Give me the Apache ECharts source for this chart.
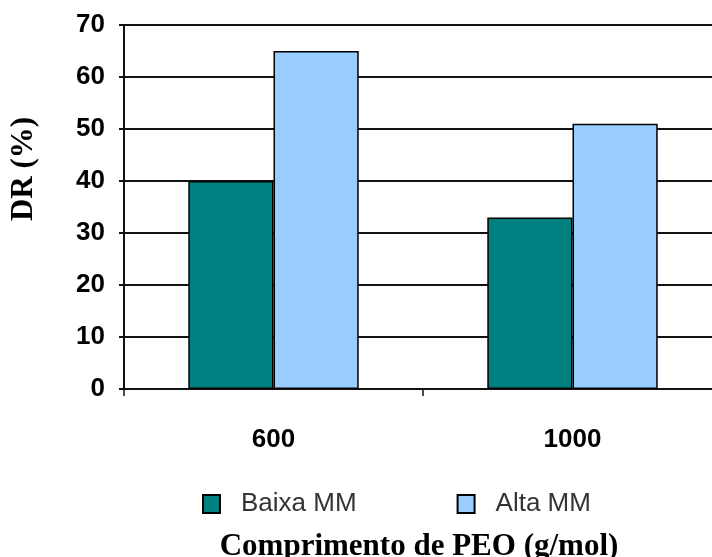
<!DOCTYPE html>
<html>
<head>
<meta charset="utf-8">
<script src="https://cdn.jsdelivr.net/npm/echarts@6/dist/echarts.min.js"></script>
<style>
  html, body { margin: 0; padding: 0; background: #fff; }
  #chart { width: 712px; height: 557px; }
</style>
</head>
<body>
<div id="chart"></div>
<script>
// PEO chain length (g/mol) on the category axis
const categories = ['600', '1000'];
// DR (%) for low and high molar mass
const baixaMM = [40, 33];
const altaMM = [65, 51];
const seriesNames = ['Baixa MM', 'Alta MM'];
// y-axis scale
const yMin = 0, yMax = 70, yStep = 10;

const tickFont = '"Liberation Sans Narrow", "Arial Narrow", "Liberation Sans", Arial, sans-serif';
const titleFont = '"Liberation Serif", "Times New Roman", serif';

const chart = echarts.init(document.getElementById('chart'), null, { renderer: 'canvas' });

chart.setOption({
  animation: false,
  backgroundColor: '#ffffff',
  // the plot runs slightly past the right edge of the canvas
  grid: { left: 124, top: 25, width: 598, bottom: 168, containLabel: false, outerBoundsMode: 'none' },
  legend: {
    data: seriesNames,
    left: 197,
    top: 486,
    itemWidth: 17,
    itemHeight: 18,
    itemGap: 100,
    icon: 'rect',
    itemStyle: { borderColor: '#000', borderWidth: 2 },
    textStyle: {
      fontFamily: '"Liberation Sans", Arial, sans-serif',
      fontSize: 26,
      color: '#333',
      padding: [0, 0, 0, 16]
    }
  },
  xAxis: {
    type: 'category',
    data: categories,
    boundaryGap: true,
    axisLine: { lineStyle: { color: '#111', width: 2 } },
    axisTick: { show: true, length: 7, lineStyle: { color: '#111', width: 1.5 } },
    axisLabel: {
      margin: 38,
      fontFamily: tickFont,
      fontWeight: 'bold',
      fontSize: 26,
      color: '#000'
    },
    splitLine: { show: false }
  },
  yAxis: {
    type: 'value',
    min: yMin,
    max: yMax,
    interval: yStep,
    axisLine: { show: true, lineStyle: { color: '#111', width: 2 } },
    axisTick: { show: true, length: 5, lineStyle: { color: '#111', width: 2 } },
    axisLabel: {
      margin: 19,
      fontFamily: tickFont,
      fontWeight: 'bold',
      fontSize: 26,
      color: '#000'
    },
    splitLine: { show: true, lineStyle: { color: '#111', width: 2 } }
  },
  series: [
    {
      name: seriesNames[0],
      type: 'bar',
      data: baixaMM,
      barGap: '0%',
      barCategoryGap: '43%',
      itemStyle: { color: '#008080', borderColor: '#000', borderWidth: 1.5 }
    },
    {
      name: seriesNames[1],
      type: 'bar',
      data: altaMM,
      barGap: '0%',
      barCategoryGap: '43%',
      itemStyle: { color: '#99CCFF', borderColor: '#000', borderWidth: 1.5 }
    }
  ],
  graphic: [
    {
      type: 'text',
      x: 419,
      y: 547,
      style: {
        text: 'Comprimento de PEO (g/mol)',
        fontFamily: titleFont,
        fontWeight: 'bold',
        fontSize: 31,
        fill: '#000',
        align: 'center',
        verticalAlign: 'middle'
      }
    },
    {
      type: 'text',
      x: 24,
      y: 169,
      rotation: Math.PI / 2,
      style: {
        text: 'DR (%)',
        fontFamily: titleFont,
        fontWeight: 'bold',
        fontSize: 31,
        fill: '#000',
        align: 'center',
        verticalAlign: 'middle'
      }
    }
  ]
});
</script>
</body>
</html>
